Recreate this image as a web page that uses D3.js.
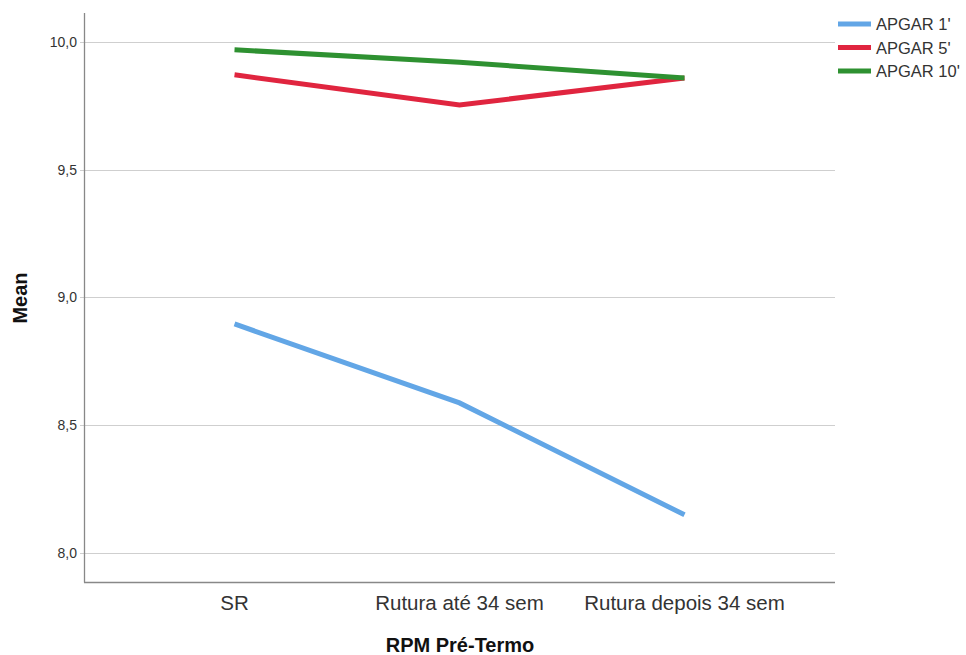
<!DOCTYPE html>
<html>
<head>
<meta charset="utf-8">
<script src="https://cdn.jsdelivr.net/npm/d3@7"></script>
<style>
  html, body { margin: 0; padding: 0; background: #fff; }
  svg { display: block; font-family: "Liberation Sans", Arial, sans-serif; }
</style>
</head>
<body>
<svg id="chart" width="966" height="655"></svg>
<script>
const categories = ["SR", "Rutura até 34 sem", "Rutura depois 34 sem"];
const seriesNames = ["APGAR 1'", "APGAR 5'", "APGAR 10'"];
const apgar1 = [8.896, 8.587, 8.149];
const apgar5 = [9.871, 9.753, 9.859];
const apgar10 = [9.969, 9.920, 9.859];
const seriesColors = ["#62a6e6", "#e0253f", "#2e9131"];
const yTicks = [8.0, 8.5, 9.0, 9.5, 10.0];
const xTitle = "RPM Pré-Termo";
const yTitle = "Mean";

const seriesValues = [apgar1, apgar5, apgar10];

const svg = d3.select("#chart");
const pLeft = 84, pRight = 835, pTop = 13, pBottom = 582;

const x = d3.scalePoint().domain(categories).range([pLeft, pRight]).padding(0.669);
const y = d3.scaleLinear().domain([7.886, 10.113]).range([pBottom, pTop]);

// gridlines
svg.append("g").selectAll("line").data(yTicks).join("line")
  .attr("x1", pLeft - 4).attr("x2", pRight)
  .attr("y1", d => Math.round(y(d)) + 0.5).attr("y2", d => Math.round(y(d)) + 0.5)
  .attr("stroke", "#cfcfcf").attr("stroke-width", 1.2);

// y tick labels
svg.append("g").selectAll("text").data(yTicks).join("text")
  .attr("x", 77).attr("y", d => y(d) + 5)
  .attr("text-anchor", "end")
  .attr("font-size", 14).attr("fill", "#333")
  .text(d => d3.format(".1f")(d).replace(".", ","));

// axes lines
svg.append("line").attr("x1", pLeft + 0.5).attr("x2", pLeft + 0.5).attr("y1", pTop).attr("y2", pBottom + 0.5)
  .attr("stroke", "#888").attr("stroke-width", 1.3);
svg.append("line").attr("x1", pLeft).attr("x2", pRight).attr("y1", pBottom + 0.5).attr("y2", pBottom + 0.5)
  .attr("stroke", "#888").attr("stroke-width", 1.3);

// x labels
svg.append("g").selectAll("text").data(categories).join("text")
  .attr("x", d => x(d)).attr("y", 610)
  .attr("text-anchor", "middle")
  .attr("font-size", 20.5).attr("fill", "#333")
  .text(d => d);

// titles
svg.append("text").attr("x", 460).attr("y", 652).attr("text-anchor", "middle")
  .attr("font-size", 20).attr("font-weight", "bold").attr("fill", "#111").text(xTitle);
svg.append("text").attr("transform", "translate(27,298) rotate(-90)").attr("text-anchor", "middle")
  .attr("font-size", 20).attr("font-weight", "bold").attr("fill", "#111").text(yTitle);

// lines
const line = d3.line().x((d, i) => x(categories[i])).y(d => y(d));
svg.append("g").selectAll("path").data(seriesValues).join("path")
  .attr("d", d => line(d))
  .attr("fill", "none")
  .attr("stroke", (d, i) => seriesColors[i])
  .attr("stroke-width", 5);

// legend
const lg = svg.append("g").selectAll("g").data(seriesNames).join("g")
  .attr("transform", (d, i) => `translate(838,${24 + i * 23.5})`);
lg.append("line").attr("x1", 0).attr("x2", 33).attr("y1", 0).attr("y2", 0)
  .attr("stroke", (d, i) => seriesColors[i]).attr("stroke-width", 5);
lg.append("text").attr("x", 38).attr("y", 6).attr("font-size", 16.5).attr("fill", "#333").text(d => d);
</script>
</body>
</html>
